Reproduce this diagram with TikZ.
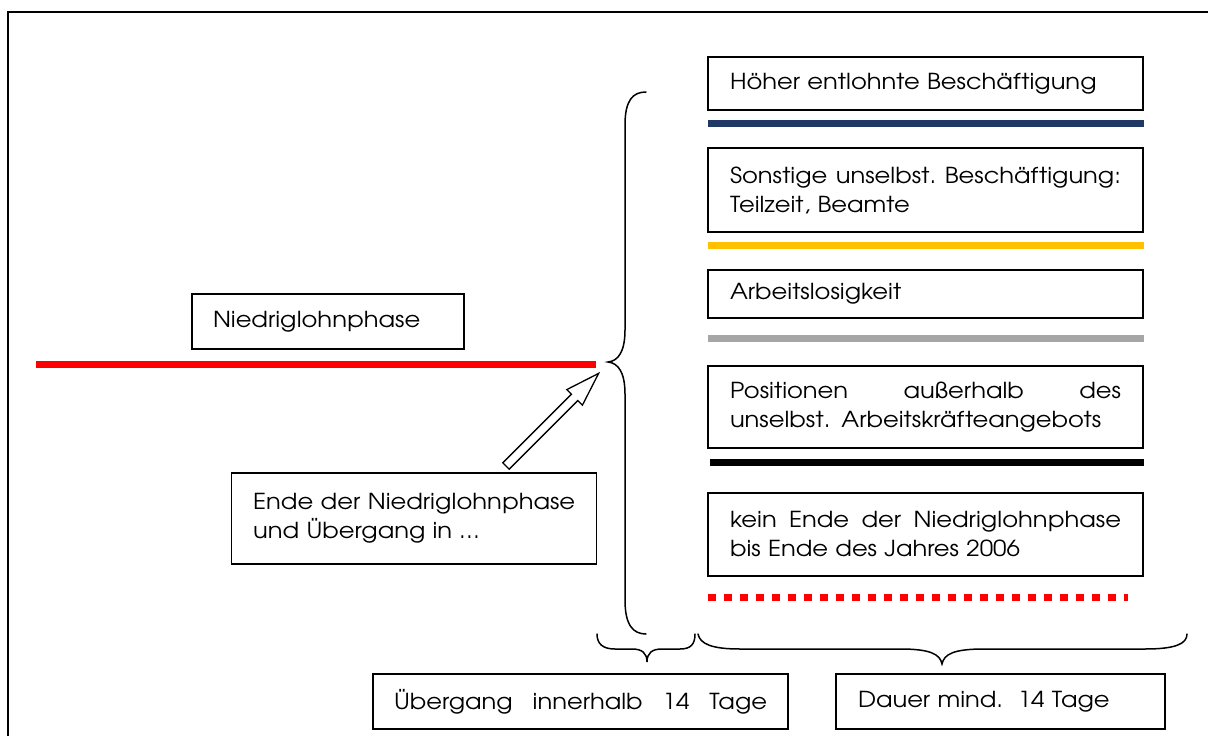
\documentclass[tikz,border=0pt]{standalone}
\usepackage{fontspec}
\IfFontExistsTF{TeX Gyre Adventor}{\setmainfont[FakeStretch=1.1]{TeX Gyre Adventor}}{\setmainfont{Poppins}}
\definecolor{navy}{HTML}{1F3864}
\definecolor{gold}{HTML}{FFC000}
\definecolor{lgray}{HTML}{A6A6A6}
\tikzset{
  box/.style={draw, line width=1.5pt, inner sep=0pt, font=\fontsize{22}{29}\selectfont, align=left},
  bar/.style={line width=7pt},
  bracepath/.style={line width=1.5pt, line cap=round},
  blockarrow/.style={draw, line width=1.3pt, fill=white, line join=miter},
}
\begin{document}
\begin{tikzpicture}[x=1pt,y=-1pt]
\useasboundingbox (0,0) rectangle (1208,736);
% frame
\draw[line width=2pt] (8,737) -- (8,12) -- (1209,12);

% right column boxes
\node[box, minimum width=435, minimum height=53, text width=391] (b1) at (925.5,83.5) {Höher entlohnte Beschäftigung};
\node[box, minimum width=435, minimum height=84, text width=391] (b2) at (925.5,190) {\makebox[391pt]{Sonstige\hfill unselbst.\hfill Beschäftigung:}\\Teilzeit, Beamte};
\node[box, minimum width=435, minimum height=48, text width=391] (b3) at (925.5,294) {Arbeitslosigkeit};
\node[box, minimum width=435, minimum height=82, text width=391] (b4) at (925.5,407) {\makebox[391pt]{Positionen\hfill außerhalb\hfill des}\\unselbst. Arbeitskräfteangebots};
\node[box, minimum width=435, minimum height=83, text width=391] (b5) at (925.5,534.5) {\makebox[391pt]{kein\hfill Ende\hfill der\hfill Niedriglohnphase}\\bis Ende des Jahres 2006};

% left boxes
\node[box, minimum width=272, minimum height=55, text width=230] (nied) at (328,321.5) {Niedriglohnphase};
\node[box, minimum width=365, minimum height=91, text width=322] (ende) at (414.2,518.4) {\makebox[322pt]{Ende\hfill der\hfill Niedriglohnphase}\\und Übergang in …};

% bottom boxes
\node[box, minimum width=415, minimum height=55, text width=373] (ueb) at (580.5,701.5) {\makebox[373pt]{Übergang\hfill innerhalb\hfill 14\hfill Tage}};
\node[box, minimum width=329, minimum height=55, text width=285] (dauer) at (1000.5,701.5) {Dauer mind.\ \ 14 Tage};

% coloured bars
\draw[bar, red] (36,364.5) -- (596,364.5);
\draw[bar, navy] (708,123.5) -- (1144,123.5);
\draw[bar, gold] (708,245.5) -- (1144,245.5);
\draw[bar, lgray] (708,338) -- (1144,338);
\draw[bar, black] (710,462.5) -- (1144,462.5);
\draw[bar, red, dash pattern=on 8pt off 8pt] (708,597) -- (1128,597);

% block arrow
\draw[blockarrow] (502.8,462.8) -- (571.4,394.2) -- (566.8,389.6) -- (598.6,373.4) -- (582.4,405.2) -- (577.8,400.6) -- (509.2,469.2) -- cycle;

% vertical brace
\draw[bracepath] (646,92) .. controls (633,92) and (625,100) .. (625,125) -- (625,330) .. controls (625,352) and (618,361) .. (608,362) .. controls (618,363) and (625,372) .. (625,394) -- (625,600) .. controls (625,625) and (633,634) .. (646,634);

% bottom braces
\draw[bracepath] (597,634) .. controls (597,644) and (603,649) .. (615,649) -- (632,649) .. controls (642,649) and (647,653) .. (647,662) .. controls (647,653) and (652,649) .. (662,649) -- (680,649) .. controls (691,649) and (695,644) .. (695,634);
\draw[bracepath] (698,634) .. controls (700,644) and (712,649) .. (740,649) -- (900,649) .. controls (930,649) and (940,654) .. (942,664) .. controls (944,654) and (954,649) .. (984,649) -- (1145,649) .. controls (1175,649) and (1187,644) .. (1187,634);
\end{tikzpicture}
\end{document}
